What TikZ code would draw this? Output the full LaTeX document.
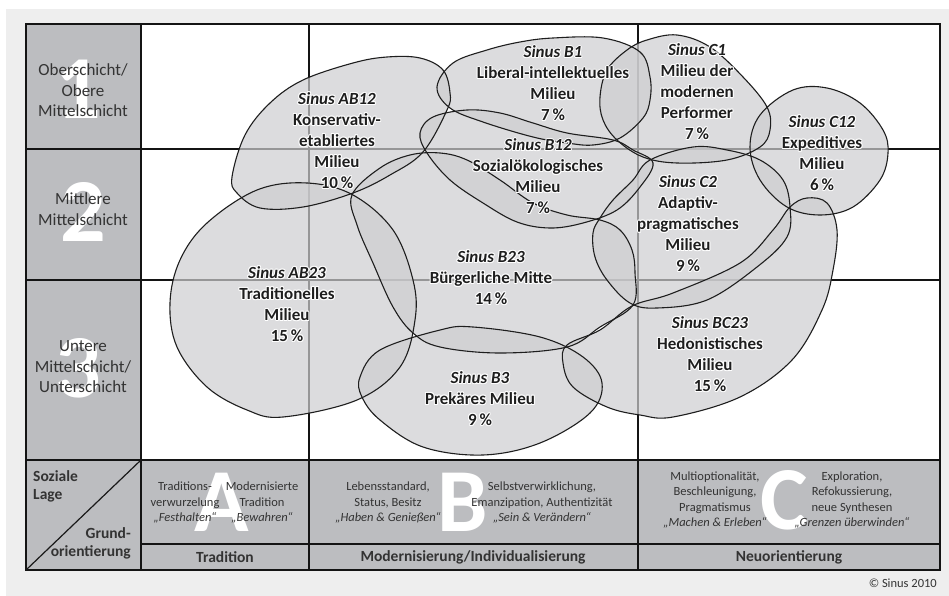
\documentclass[tikz,border=0pt]{standalone}
\usepackage{fontspec}
\setmainfont{Carlito}
\definecolor{bg}{HTML}{EEEEEE}
\definecolor{panel}{HTML}{BCBDC0}
\definecolor{blob}{HTML}{CECED0}
\definecolor{ink}{HTML}{1E1E1E}
\definecolor{txt}{HTML}{333333}
\tikzset{
 blobfill/.style={fill=blob, fill opacity=0.7},
 blobline/.style={draw=ink, line width=1.1pt},
 gridline/.style={draw=black!92, line width=1.8pt},
 milieu/.style={align=center, font=\fontsize{17}{21}\selectfont\bfseries, text=ink, inner sep=0pt},
 schicht/.style={align=center, font=\fontsize{17}{20.5}\selectfont, text=txt, inner sep=0pt},
 bigw/.style={font=\fontsize{90}{90}\selectfont\bfseries, text=white, inner sep=0pt},
 orient/.style={align=center, font=\fontsize{12.5}{15.5}\selectfont, text=txt, inner sep=0pt},
 headtext/.style={font=\fontsize{15.5}{18}\selectfont\bfseries, text=txt, inner sep=0pt},
}
\newcommand\mlabel[3]{%
 \foreach \dx/\dy in {-1pt/0pt,1pt/0pt,0pt/-1pt,0pt/1pt,-0.7pt/-0.7pt,0.7pt/0.7pt,-0.7pt/0.7pt,0.7pt/-0.7pt}{%
   \node[milieu,text=white] at ([shift={(\dx,\dy)}]#2) {#3};}
 \node[milieu] (#1) at (#2) {#3};}
\def\shABa{(232,177) (245,135) (270,103) (303,80) (353,63) (387,57) (420,58) (443,70) (450,93) (447,110) (423,152) (390,175) (353,193) (303,207) (260,208) (237,193)}
\def\shBa{(437,87) (453,63) (487,50) (520,42) (553,38) (603,38) (640,52) (650,77) (650,100) (643,118) (620,138) (593,145) (567,143) (533,137) (483,122) (450,108)}
\def\shCa{(600,97) (607,70) (627,50) (647,40) (677,35) (710,47) (743,77) (767,107) (770,130) (760,147) (727,160) (677,163) (643,157) (617,140) (603,120)}
\def\shCab{(750,147) (760,115) (793,90) (827,88) (860,103) (883,130) (888,153) (880,180) (853,207) (820,215) (787,207) (760,180)}
\def\shBab{(420,133) (433,117) (467,110) (500,113) (533,123) (567,133) (613,140) (633,150) (653,163) (640,187) (617,210) (583,223) (550,228) (517,222) (483,203) (450,180) (427,153)}
\def\shCb{(650,160) (693,147) (727,150) (760,160) (783,180) (790,207) (787,237) (757,267) (707,300) (657,308) (630,303) (607,280) (595,257) (593,233) (600,218) (613,200) (633,180)}
\def\shABb{(170,303) (180,260) (207,223) (257,190) (307,183) (353,195) (393,230) (413,280) (415,320) (400,367) (357,400) (283,417) (247,410) (207,387) (177,347)}
\def\shBbc{(352,195) (380,168) (410,155) (440,153) (467,160) (500,180) (533,203) (567,215) (600,220) (620,230) (632,250) (635,273) (633,305) (600,327) (567,347) (500,353) (440,347) (413,333) (393,307) (373,263) (357,225)}
\def\shBc{(360,377) (380,350) (440,330) (473,327) (540,337) (583,357) (602,383) (590,413) (540,443) (483,455) (423,447) (380,420) (362,397)}
\def\shBCbc{(790,207) (807,198) (827,203) (837,230) (833,270) (822,310) (792,360) (740,397) (673,417) (640,415) (607,407) (573,387) (563,363) (567,345) (600,330) (632,306) (673,293) (740,263) (773,230)}
\begin{document}
\begin{tikzpicture}[x=1pt,y=-1pt]
\useasboundingbox (0,0) rectangle (949,596);
\fill[bg] (6,9) rectangle (949,596);
\fill[white] (141,24) rectangle (940,460);
\fill[panel] (26,24) rectangle (141,460);
\fill[panel] (26,460) rectangle (940,570);
% big white marks
\node[bigw] (n1) at (78,89) {1};
\node[bigw] (n2) at (83,212) {2};
\node[bigw] (n3) at (78,368) {3};
\node[bigw] (lA) at (222,502) {A};
\node[bigw] (lB) at (463,502) {B};
\node[bigw] (lC) at (784,500) {C};
% grid
\draw[gridline] (26,24) rectangle (940,570);
\draw[gridline] (26,149) -- (940,149);
\draw[gridline] (26,280) -- (940,280);
\draw[gridline] (26,460) -- (940,460);
\draw[gridline] (141,544) -- (940,544);
\draw[gridline] (141,24) -- (141,570);
\draw[gridline] (309,24) -- (309,570);
\draw[gridline] (638,24) -- (638,570);
\draw[line width=1.2pt, black!90] (26,570) -- (141,460);
% blobs
\foreach \s in {\shABa,\shBa,\shCa,\shCab,\shBab,\shCb,\shABb,\shBbc,\shBc,\shBCbc}{%
  \edef\tmp{\noexpand\fill[blobfill] plot[smooth cycle,tension=0.6] coordinates {\s};}\tmp}
\foreach \s in {\shABa,\shBa,\shCa,\shCab,\shBab,\shCb,\shABb,\shBbc,\shBc,\shBCbc}{%
  \edef\tmp{\noexpand\draw[blobline] plot[smooth cycle,tension=0.6] coordinates {\s};}\tmp}
% milieu labels
\mlabel{tAB12}{337,140.5}{{\itshape Sinus AB12}\\Konservativ-\\etabliertes\\Milieu\\10\,\%}
\mlabel{tB1}{553,83.5}{{\itshape Sinus B1}\\Liberal-intellektuelles\\Milieu\\7\,\%}
\mlabel{tB12}{538,176.5}{{\itshape Sinus B12}\\Sozialökologisches\\Milieu\\7\,\%}
\mlabel{tC1}{697,91.5}{{\itshape Sinus C1}\\Milieu der\\modernen\\Performer\\7\,\%}
\mlabel{tC12}{822,153}{{\itshape Sinus C12}\\Expeditives\\Milieu\\6\,\%}
\mlabel{tC2}{688,223.5}{{\itshape Sinus C2}\\Adaptiv-\\pragmatisches\\Milieu\\9\,\%}
\mlabel{tAB23}{287,304}{{\itshape Sinus AB23}\\Traditionelles\\Milieu\\15\,\%}
\mlabel{tB23}{491,277.5}{{\itshape Sinus B23}\\Bürgerliche Mitte\\14\,\%}
\mlabel{tB3}{480,398.5}{{\itshape Sinus B3}\\Prekäres Milieu\\9\,\%}
\mlabel{tBC23}{710,354}{{\itshape Sinus BC23}\\Hedonistisches\\Milieu\\15\,\%}
% left column
\node[schicht] (s1) at (83,90.5) {Oberschicht/\\Obere\\Mittelschicht};
\node[schicht] (s2) at (83,209) {Mittlere\\Mittelschicht};
\node[schicht] (s3) at (83,367) {Untere\\Mittelschicht/\\Unterschicht};
% bottom table
\node[headtext, align=left, anchor=west] (soz) at (33,486) {Soziale\\Lage};
\node[headtext, align=right, anchor=east] (grund) at (131,543.5) {Grund-\\orientierung};
\node[orient] (oA1) at (185,502.5) {Traditions-\\verwurzelung\\{\itshape „Festhalten“}};
\node[orient] (oA2) at (262,502.5) {Modernisierte\\Tradition\\{\itshape „Bewahren“}};
\node[orient] (oB1) at (388,502.5) {Lebensstandard,\\Status, Besitz\\{\itshape „Haben \& Genießen“}};
\node[orient] (oB2) at (542,502.5) {Selbstverwirklichung,\\Emanzipation, Authentizität\\{\itshape „Sein \& Verändern“}};
\node[orient] (oC1) at (715,500) {Multioptionalität,\\Beschleunigung,\\Pragmatismus\\{\itshape „Machen \& Erleben“}};
\node[orient] (oC2) at (852,500) {Exploration,\\Refokussierung,\\neue Synthesen\\{\itshape „Grenzen überwinden“}};
\node[headtext] (hA) at (225,557) {Tradition};
\node[headtext] (hB) at (473,557) {Modernisierung/Individualisierung};
\node[headtext] (hC) at (789,557) {Neuorientierung};
\node[orient, anchor=east] (copy) at (937,583) {© Sinus 2010};
\end{tikzpicture}
\end{document}
